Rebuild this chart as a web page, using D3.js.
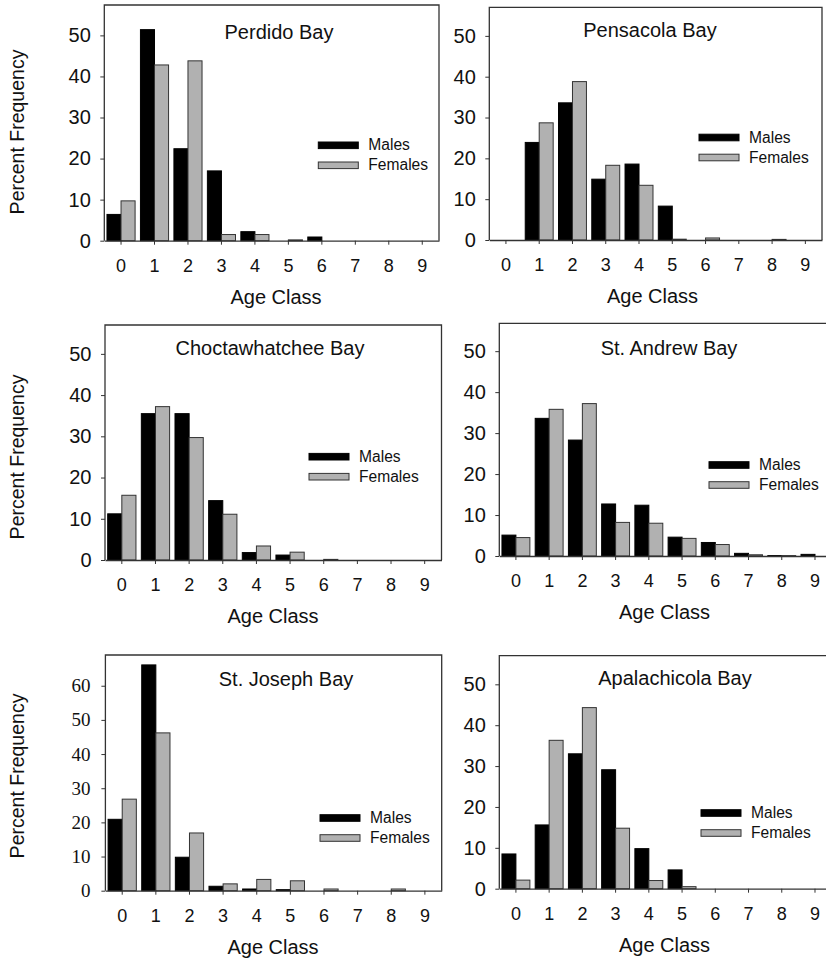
<!DOCTYPE html>
<html>
<head>
<meta charset="utf-8">
<script src="https://cdn.jsdelivr.net/npm/d3@7"></script>
<style>
  body { margin: 0; background: #fff; }
  svg text { font-family: "Liberation Sans", Arial, sans-serif; fill: #111; }
</style>
</head>
<body>
<div class="svgContainer"></div>
<script>
var W = 826, H = 964;

// values (percent frequency by age class)
var ageClasses = ["0", "1", "2", "3", "4", "5", "6", "7", "8", "9"];
var sexes = ["Males", "Females"];
var bayNames = ["Perdido Bay", "Pensacola Bay", "Choctawhatchee Bay", "St. Andrew Bay", "St. Joseph Bay", "Apalachicola Bay"];

var perdidoMales = [6.4, 51.4, 22.4, 17.0, 2.2, 0, 0.9, 0, 0, 0];
var perdidoFemales = [9.7, 42.8, 43.8, 1.5, 1.5, 0.2, 0, 0, 0, 0];
var pensacolaMales = [0, 23.9, 33.6, 14.9, 18.6, 8.3, 0, 0, 0, 0];
var pensacolaFemales = [0, 28.7, 38.8, 18.3, 13.4, 0.2, 0.5, 0, 0.15, 0];
var choctawhatcheeMales = [11.2, 35.5, 35.5, 14.4, 1.8, 1.2, 0, 0, 0, 0];
var choctawhatcheeFemales = [15.7, 37.2, 29.7, 11.1, 3.4, 1.9, 0.15, 0, 0, 0];
var stAndrewMales = [5.1, 33.6, 28.3, 12.7, 12.4, 4.6, 3.3, 0.65, 0.1, 0.4];
var stAndrewFemales = [4.5, 35.8, 37.2, 8.2, 8.0, 4.3, 2.8, 0.3, 0.1, 0];
var stJosephMales = [20.9, 66.1, 9.8, 1.3, 0.5, 0.3, 0, 0, 0, 0];
var stJosephFemales = [26.8, 46.2, 16.9, 2.0, 3.3, 2.9, 0.5, 0, 0.5, 0];
var apalachicolaMales = [8.5, 15.6, 33.0, 29.1, 9.8, 4.6, 0, 0, 0, 0];
var apalachicolaFemales = [2.1, 36.3, 44.3, 14.8, 2.0, 0.5, 0, 0, 0, 0];

var yTicksStd = [0, 10, 20, 30, 40, 50];
var yTicksJoseph = [0, 10, 20, 30, 40, 50, 60];

var colors = { Males: "#000", Females: "#b1b1b1" };

// panel layout (page pixels)
var panels = [
  { name: bayNames[0], m: perdidoMales, f: perdidoFemales, ticks: yTicksStd, yMax: 57.4,
    l: 104.3, t: 5, r: 439, b: 240.7, tx: 279, ty: 38.5, lx: 318.3, ly: 145.3, yLab: 132, xLab: 276, serif: false },
  { name: bayNames[1], m: pensacolaMales, f: pensacolaFemales, ticks: yTicksStd, yMax: 57,
    l: 489.3, t: 7.3, r: 822, b: 240, tx: 650, ty: 36.5, lx: 699, ly: 137.5, yLab: null, xLab: 652.5, serif: false },
  { name: bayNames[2], m: choctawhatcheeMales, f: choctawhatcheeFemales, ticks: yTicksStd, yMax: 57,
    l: 105, t: 325, r: 441.5, b: 560, tx: 270, ty: 355, lx: 309, ly: 456.7, yLab: 457, xLab: 273, serif: false },
  { name: bayNames[3], m: stAndrewMales, f: stAndrewFemales, ticks: yTicksStd, yMax: 56.8,
    l: 499.3, t: 323.3, r: 831.6, b: 556, tx: 669, ty: 355, lx: 709, ly: 465, yLab: null, xLab: 664.5, serif: false },
  { name: bayNames[4], m: stJosephMales, f: stJosephFemales, ticks: yTicksJoseph, yMax: 69,
    l: 105.4, t: 655, r: 441.7, b: 890.7, tx: 286, ty: 685.5, lx: 320, ly: 818, yLab: 776, xLab: 273, serif: true },
  { name: bayNames[5], m: apalachicolaMales, f: apalachicolaFemales, ticks: yTicksStd, yMax: 57,
    l: 499.3, t: 655.7, r: 831.6, b: 888.7, tx: 675, ty: 685, lx: 701, ly: 813, yLab: null, xLab: 664.5, serif: false }
];

var svg = d3.select(".svgContainer")
            .append("svg")
            .attr("width", W)
            .attr("height", H);

panels.forEach(function (p) {
  var g = svg.append("g");

  var x = d3.scaleBand()
            .domain(ageClasses)
            .range([p.l, p.r])
            .padding(0);

  var bw = x.bandwidth();
  var xSex = d3.scaleBand()
               .domain(sexes)
               .range([-bw * 0.42, bw * 0.42]);

  var y = d3.scaleLinear()
            .domain([0, p.yMax])
            .range([p.b, p.t]);

  // bars
  sexes.forEach(function (s) {
    var vals = s === "Males" ? p.m : p.f;
    g.selectAll("rect." + s)
     .data(vals.map(function (v, i) { return { age: ageClasses[i], v: v }; }).filter(function (d) { return d.v > 0; }))
     .enter()
     .append("rect")
     .attr("class", s)
     .attr("x", function (d) { return x(d.age) + bw / 2 + xSex(s); })
     .attr("y", function (d) { return y(d.v); })
     .attr("width", xSex.bandwidth())
     .attr("height", function (d) { return y(0) - y(d.v); })
     .attr("fill", colors[s])
     .attr("stroke", s === "Males" ? "#000" : "#333")
     .attr("stroke-width", 1);
  });

  // frame: left, top, right
  g.append("path")
   .attr("d", "M" + p.l + "," + p.b + "V" + p.t + "H" + p.r + "V" + p.b)
   .attr("fill", "none")
   .attr("stroke", "#333")
   .attr("stroke-width", 1.3);

  // x axis
  var xAxis = d3.axisBottom(x).tickSize(4).tickPadding(14.5).tickSizeOuter(0);
  var xg = g.append("g")
            .attr("transform", "translate(0," + p.b + ")")
            .call(xAxis);
  xg.select(".domain").attr("stroke", "#333").attr("stroke-width", 1.3);
  xg.selectAll(".tick line").attr("stroke", "#333");
  xg.selectAll("text")
    .style("font-size", "18px")
    .attr("fill", "#111");

  // y axis
  var yAxis = d3.axisLeft(y).tickValues(p.ticks).tickSize(4).tickPadding(p.serif ? 11 : 9.5).tickSizeOuter(0);
  var yg = g.append("g")
            .attr("transform", "translate(" + p.l + ",0)")
            .call(yAxis);
  yg.select(".domain").remove();
  yg.selectAll(".tick line").attr("stroke", "#333");
  yg.selectAll("text")
    .style("font-size", p.serif ? "19px" : "20px")
    .style("font-family", p.serif ? "'Liberation Serif', 'Times New Roman', serif" : null)
    .attr("fill", "#111");

  // title
  g.append("text")
   .attr("x", p.tx)
   .attr("y", p.ty)
   .attr("text-anchor", "middle")
   .style("font-size", "20px")
   .text(p.name);

  // legend
  sexes.forEach(function (s, i) {
    var ly = p.ly + i * 20;
    g.append("rect")
     .attr("x", p.lx)
     .attr("y", ly - 3.3)
     .attr("width", 40)
     .attr("height", 6.6)
     .attr("fill", colors[s])
     .attr("stroke", s === "Males" ? "#000" : "#333");
    g.append("text")
     .attr("x", p.lx + 50)
     .attr("y", ly + 5)
     .style("font-size", "15.6px")
     .text(s);
  });

  // axis titles
  g.append("text")
   .attr("x", p.xLab)
   .attr("y", p.b + 63)
   .attr("text-anchor", "middle")
   .style("font-size", "20px")
   .text("Age Class");

  if (p.yLab !== null) {
    g.append("text")
     .attr("transform", "translate(24," + p.yLab + ") rotate(-90)")
     .attr("text-anchor", "middle")
     .style("font-size", "19.5px")
     .text("Percent Frequency");
  }
});
</script>
</body>
</html>
